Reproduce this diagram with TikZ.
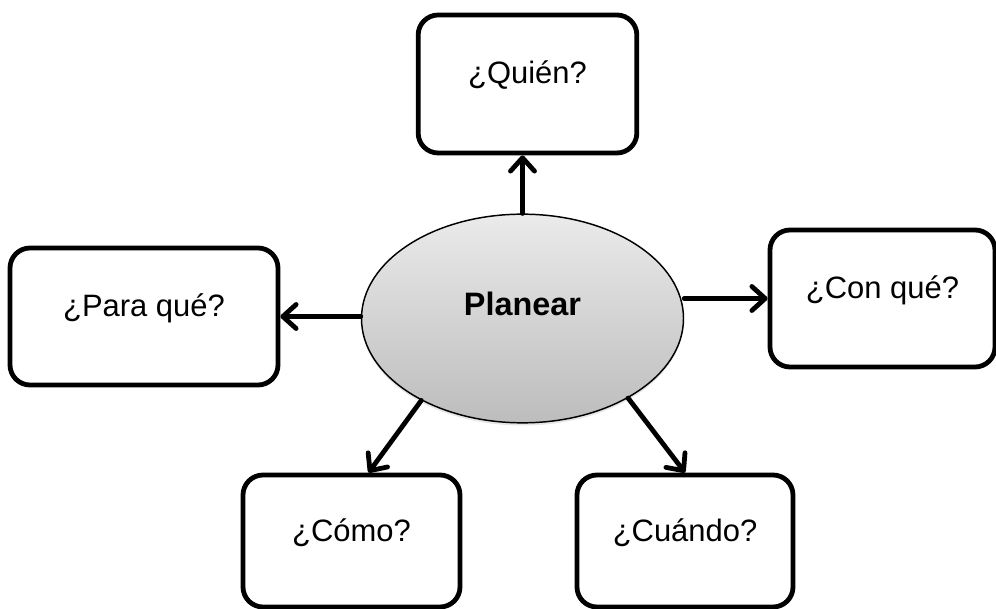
\documentclass[tikz,border=0pt]{standalone}
\usepackage{fontspec}
\setmainfont{Liberation Sans}
\usetikzlibrary{arrows.meta}
\usetikzlibrary{shapes.geometric}
\usetikzlibrary{shadows}

\begin{document}
\begin{tikzpicture}[x=0.75pt,y=-0.75pt,
		caja/.style={draw, line width=3.6pt, rounded corners=15pt, fill=white,
			font=\fontsize{23.2}{28}\selectfont, text height=0.8em, text depth=0.8em,
			inner sep=0pt},
		flecha/.style={line width=3.6pt, line cap=round,
			-{Straight Barb[length=10pt,width=18pt,line cap=round,line join=round]}}]
		\useasboundingbox (0,0) rectangle (996,609) ;
\par
\node[ellipse, draw, line width=1.1pt, top color=black!8, bottom color=black!26,
			drop shadow={opacity=0.2,shadow xshift=0pt,shadow yshift=-2pt},
			minimum width=241.5pt, minimum height=156.5pt, inner sep=0pt,
			font=\bfseries\fontsize{24.3}{29}\selectfont, text height=0.7em, text depth=1.2em]
			(plan) at (522.5,318.5) {Planear} ;
\par
\node[caja, minimum width=164pt, minimum height=103.5pt] (quien) at (527.5,84) {¿Quién?} ;
		\node[caja, minimum width=201pt, minimum height=102.75pt] (para) at (144,316.5) {¿Para qué?} ;
		\node[caja, minimum width=168.75pt, minimum height=102.75pt] (conque) at (882.5,298.5) {¿Con qué?} ;
		\node[caja, minimum width=162.75pt, minimum height=99pt] (como) at (351.5,541) {¿Cómo?} ;
		\node[caja, minimum width=162pt, minimum height=99pt] (cuando) at (685,541) {¿Cuándo?} ;
\par
\draw[flecha] (plan.north) -- (plan.north |- quien.south) ;
		\draw[flecha] (para.east -| plan.west) -- (para.east) ;
		\draw[flecha] (conque.west -| plan.east) -- (conque.west) ;
		\draw[flecha] (plan.219) -- (como.76) ;
		\draw[flecha] (plan.-37) -- (cuando.north) ;
	\end{tikzpicture}
\end{document}
